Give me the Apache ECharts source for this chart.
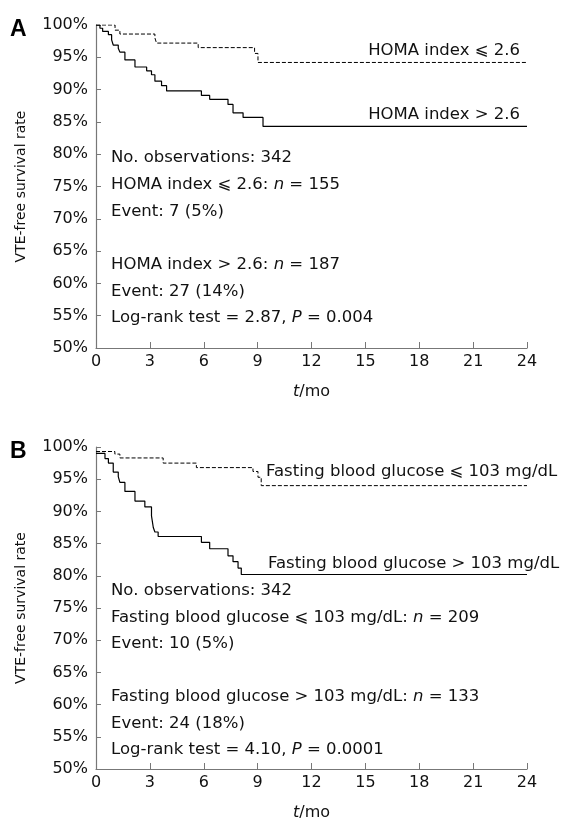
<!DOCTYPE html>
<html>
<head>
<meta charset="utf-8">
<script src="https://cdn.jsdelivr.net/npm/echarts@6/dist/echarts.min.js"></script>
<style>
  html, body { margin: 0; padding: 0; background: #fff; }
  #chart { width: 562px; height: 822px; }
</style>
</head>
<body>
<div id="chart"></div>
<script>
// t (months) where the survival changes, and survival (%) from that time on
var homaLowT  = [0, 1.06, 1.33, 3.28, 3.37, 5.69, 8.83, 9.02, 24];
var homaLowS  = [100, 99.2, 98.6, 98.0, 97.2, 96.5, 95.6, 94.2, 94.2];

var homaHighT = [0, 0.22, 0.37, 0.69, 0.87, 0.96, 1.24, 1.33, 1.61, 2.17, 2.82, 3.09, 3.28, 3.65, 3.93, 5.87, 6.33, 7.35, 7.63, 8.19, 9.3, 24];
var homaHighS = [100, 99.5, 99.0, 98.5, 97.7, 96.9, 96.4, 95.8, 94.6, 93.5, 92.9, 92.3, 91.3, 90.6, 89.8, 89.1, 88.5, 87.7, 86.4, 85.7, 84.3, 84.3];

var fbgLowT   = [0, 1.05, 1.33, 3.74, 5.59, 8.74, 9.02, 9.2, 24];
var fbgLowS   = [99.3, 98.9, 98.3, 97.5, 96.8, 96.2, 95.3, 94.0, 94.0];

var fbgHighT  = [0, 0.5, 0.69, 0.96, 1.24, 1.33, 1.61, 2.17, 2.72, 3.09, 3.19, 3.28, 3.46, 5.87, 6.33, 7.35, 7.63, 7.91, 8.09, 24];
var fbgHighS  = [99.0, 98.2, 97.5, 96.1, 95.4, 94.5, 93.1, 91.6, 90.7, 89.3, 87.5, 86.8, 86.1, 85.2, 84.2, 83.1, 82.2, 81.2, 80.2, 80.2];

var xTicks = [0, 3, 6, 9, 12, 15, 18, 21, 24];
var yTicks = [50, 55, 60, 65, 70, 75, 80, 85, 90, 95, 100];

var textA = [
  'No. observations: 342',
  'HOMA index \u2A7D 2.6: {i|n} = 155',
  'Event: 7 (5%)',
  '',
  'HOMA index > 2.6: {i|n} = 187',
  'Event: 27 (14%)',
  'Log-rank test = 2.87, {i|P} = 0.004'
];
var textB = [
  'No. observations: 342',
  'Fasting blood glucose \u2A7D 103 mg/dL: {i|n} = 209',
  'Event: 10 (5%)',
  '',
  'Fasting blood glucose > 103 mg/dL: {i|n} = 133',
  'Event: 24 (18%)',
  'Log-rank test = 4.10, {i|P} = 0.0001'
];

var FONT = 'DejaVu Sans';
var FS = 16.5;

function pairs(t, s) {
  return t.map(function (v, i) { return [v, s[i]]; });
}

function xAxis(idx) {
  return {
    type: 'value', gridIndex: idx,
    min: xTicks[0], max: xTicks[xTicks.length - 1], interval: xTicks[1] - xTicks[0],
    name: '{i|t}/mo', nameLocation: 'middle', nameGap: 36,
    nameTextStyle: {
      color: '#111', fontFamily: FONT, fontSize: 16,
      rich: { i: { fontStyle: 'italic', fontFamily: FONT, fontSize: 16, color: '#111' } }
    },
    axisLine: { lineStyle: { color: '#777', width: 1.2 } },
    axisTick: { inside: true, length: 6, lineStyle: { color: '#777' } },
    axisLabel: { color: '#111', fontFamily: FONT, fontSize: 16, margin: 6 },
    splitLine: { show: false }
  };
}

function yAxis(idx) {
  return {
    type: 'value', gridIndex: idx,
    min: yTicks[0], max: yTicks[yTicks.length - 1], interval: yTicks[1] - yTicks[0],
    name: 'VTE-free survival rate', nameLocation: 'middle', nameGap: 68, nameRotate: 90,
    nameTextStyle: { color: '#111', fontFamily: FONT, fontSize: 14 },
    axisLine: { show: true, lineStyle: { color: '#777', width: 1.2 } },
    axisTick: { show: true, inside: true, length: 5, lineStyle: { color: '#777' } },
    axisLabel: { color: '#111', fontFamily: FONT, fontSize: 16, margin: 8, formatter: '{value}%' },
    splitLine: { show: false }
  };
}

function curve(idx, t, s, dashed) {
  return {
    type: 'line', xAxisIndex: idx, yAxisIndex: idx,
    data: pairs(t, s), step: 'end', symbol: 'none', silent: true,
    lineStyle: { color: '#000', width: dashed ? 1 : 1.2, type: dashed ? [4, 2] : 'solid' }
  };
}

function txt(x, y, s, align) {
  return {
    type: 'text', x: x, y: y, silent: true,
    style: {
      text: s, fill: '#111', fontFamily: FONT, fontSize: FS,
      align: align || 'left', verticalAlign: 'middle',
      rich: { i: { fontStyle: 'italic', fontFamily: FONT, fontSize: FS, fill: '#111' } }
    }
  };
}

var graphics = [
  { type: 'text', x: 10, y: 30, style: { text: 'A', fontFamily: 'Liberation Sans', fontWeight: 'bold', fontSize: 23, fill: '#000', verticalAlign: 'middle' } },
  { type: 'text', x: 10, y: 452, style: { text: 'B', fontFamily: 'Liberation Sans', fontWeight: 'bold', fontSize: 23, fill: '#000', verticalAlign: 'middle' } },
  txt(520, 51, 'HOMA index \u2A7D 2.6', 'right'),
  txt(520, 115, 'HOMA index > 2.6', 'right'),
  txt(266, 472, 'Fasting blood glucose \u2A7D 103 mg/dL'),
  txt(268, 564, 'Fasting blood glucose > 103 mg/dL')
];
textA.forEach(function (s, i) { if (s) graphics.push(txt(111, 158 + i * 26.7, s)); });
textB.forEach(function (s, i) { if (s) graphics.push(txt(111, 591 + i * 26.5, s)); });

var chart = echarts.init(document.getElementById('chart'));
chart.setOption({
  animation: false,
  backgroundColor: '#fff',
  grid: [
    { left: 96, right: 35, top: 25, height: 323 },
    { left: 96, right: 35, top: 447, height: 323 }
  ],
  xAxis: [xAxis(0), xAxis(1)],
  yAxis: [yAxis(0), yAxis(1)],
  series: [
    curve(0, homaLowT, homaLowS, true),
    curve(0, homaHighT, homaHighS, false),
    curve(1, fbgLowT, fbgLowS, true),
    curve(1, fbgHighT, fbgHighS, false)
  ],
  graphic: graphics
});
</script>
</body>
</html>
